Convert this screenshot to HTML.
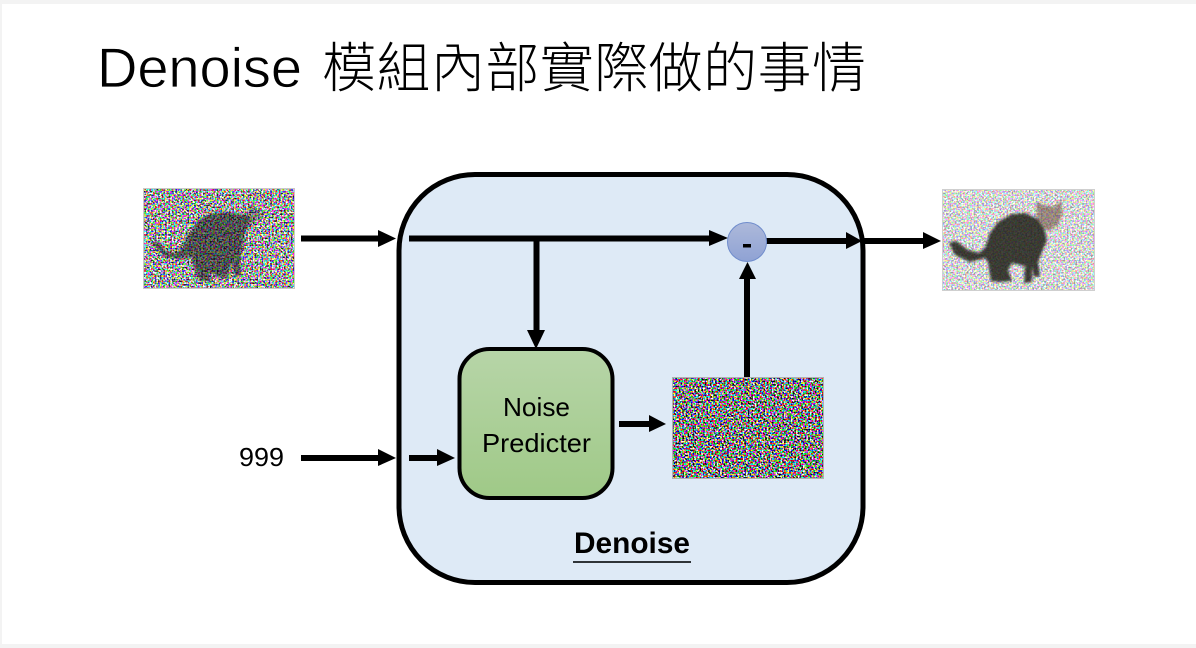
<!DOCTYPE html>
<html><head><meta charset="utf-8"><style>
html,body{margin:0;padding:0;background:#fff;width:1196px;height:648px;overflow:hidden}
svg{display:block}
</style></head><body>
<svg width="1196" height="648" viewBox="0 0 1196 648" xmlns="http://www.w3.org/2000/svg">
<defs>
<filter id="n1" x="0" y="0" width="100%" height="100%" color-interpolation-filters="sRGB">
<feTurbulence type="fractalNoise" baseFrequency="0.58" numOctaves="1" seed="3"/>
<feColorMatrix type="matrix" values="7 0 0 0 -2.900  0 7 0 0 -2.900  0 0 7 0 -2.900  0 0 0 0 1"/>
</filter>
<filter id="n2" x="0" y="0" width="100%" height="100%" color-interpolation-filters="sRGB">
<feTurbulence type="fractalNoise" baseFrequency="0.58" numOctaves="1" seed="11"/>
<feColorMatrix type="matrix" values="7 0 0 0 -2.900  0 7 0 0 -2.900  0 0 7 0 -2.900  0 0 0 0 1"/>
</filter>
<filter id="n3" x="0" y="0" width="100%" height="100%" color-interpolation-filters="sRGB">
<feTurbulence type="fractalNoise" baseFrequency="0.58" numOctaves="1" seed="23"/>
<feColorMatrix type="matrix" values="7 0 0 0 -3  0 7 0 0 -3  0 0 7 0 -3  0 0 0 0 1"/>
</filter>
<filter id="b1"><feGaussianBlur stdDeviation="1.200"/></filter>
<linearGradient id="g" x1="0" y1="0" x2="0" y2="1"><stop offset="0" stop-color="#b7d5a8"/><stop offset="1" stop-color="#9fc987"/></linearGradient>
<linearGradient id="c" x1="0" y1="0" x2="0" y2="1"><stop offset="0" stop-color="#adb9da"/><stop offset="1" stop-color="#8fa2d4"/></linearGradient>
</defs>

<rect width="1196" height="648" fill="#f3f3f3"/>
<rect x="2" y="4" width="1194" height="640" fill="#fff"/>

<text x="97" y="87" font-family="'Liberation Sans',sans-serif" font-size="56" fill="#000" stroke="#fff" stroke-width="0.700" textLength="205" lengthAdjust="spacing">Denoise</text>
<text x="322" y="87" font-family="'Liberation Sans','Noto Sans CJK TC',sans-serif" font-size="54" font-weight="300" fill="#000" textLength="544" lengthAdjust="spacing">模組內部實際做的事情</text>

<!-- left noisy cat -->
<rect x="143" y="188" width="152" height="101" fill="#888" filter="url(#n1)"/>
<rect x="143" y="188" width="152" height="101" fill="#fff" opacity="0.12"/>
<path d="M151 243L158 241L165 250L173 253L182 249L187 236L197 222L208 214L225 212L240 214L250 217L245 232L243 245L240 258L241 274L235 277L231 262L228 278L219 277L208 272L212 281L200 281L195 270L191 257L178 259L165 257Z" fill="#0c100e" opacity="0.52" filter="url(#b1)"/>
<path d="M245 218L250 204L262 213L264 216L252 224L246 232Z" fill="#0c100e" opacity="0.28" filter="url(#b1)"/>
<rect x="143.500" y="188.500" width="151" height="100" fill="none" stroke="#c8c8c8" stroke-width="1"/>

<!-- main box -->
<rect x="399" y="174.500" width="464" height="408" rx="76" ry="76" fill="#deeaf6" stroke="#000" stroke-width="5"/>

<!-- green box -->
<rect x="459.500" y="349" width="153" height="149" rx="30" ry="30" fill="url(#g)" stroke="#000" stroke-width="4"/>
<g font-family="'Liberation Sans',sans-serif" fill="#000" text-anchor="start">
<text x="503" y="416" font-size="26" textLength="67" lengthAdjust="spacingAndGlyphs">Noise</text>
<text x="482" y="452" font-size="26" textLength="109" lengthAdjust="spacingAndGlyphs">Predicter</text>
<text x="239" y="466" font-size="26" textLength="45" lengthAdjust="spacingAndGlyphs">999</text>
<text x="574" y="553" font-size="30" font-weight="bold" textLength="116" lengthAdjust="spacingAndGlyphs">Denoise</text>
</g>
<rect x="573" y="561" width="118" height="2" fill="#2f3438"/>

<!-- middle noise -->
<rect x="672" y="377" width="152" height="102" fill="#888" filter="url(#n3)"/>
<rect x="672.500" y="377.500" width="151" height="101" fill="none" stroke="#b0b0b0" stroke-width="1"/>

<!-- right cat -->
<rect x="942" y="189" width="153" height="102" fill="#888" filter="url(#n2)"/>
<rect x="942" y="189" width="153" height="102" fill="#fff" opacity="0.6"/>
<path d="M949 243L956 241L968 250L979 253L985 248L990 233L998 222L1012 214L1025 213L1038 219L1044 228L1047 240L1042 252L1038 262L1040 276L1034 277L1032 266L1032 282L1024 283L1025 266L1012 263L1008 270L1012 281L1000 282L991 281L988 262L985 258L970 262L955 255Z" fill="#12120e" opacity="0.8" filter="url(#b1)"/>
<path d="M1037 219L1036 202L1044 205L1054 207L1062 200L1062 215L1058 225L1048 231L1044 228Z" fill="#6b4a3a" opacity="0.55" filter="url(#b1)"/>
<rect x="942.500" y="189.500" width="152" height="101" fill="none" stroke="#cfcfcf" stroke-width="1"/>

<!-- arrows -->
<g fill="#000">
<rect x="301" y="235.500" width="80" height="6"/><polygon points="378,230 396,238.500 378,247"/>
<rect x="409" y="235.500" width="300" height="6"/><polygon points="709,230 728,238 709,246"/>
<rect x="533.500" y="236" width="6" height="95"/><polygon points="527,330 545,330 536,349"/>
<rect x="766" y="238" width="82" height="6"/><polygon points="846,232 862,241 846,249"/>
<rect x="863" y="238" width="62" height="6"/><polygon points="923,232 941,241 923,249"/>
<rect x="744" y="278" width="6" height="99"/><polygon points="739,279 756,279 747.500,262"/>
<rect x="619" y="421" width="32" height="6"/><polygon points="649,415 666,424 649,432"/>
<rect x="301" y="455" width="80" height="6"/><polygon points="378,449 396,458 378,466"/>
<rect x="409" y="455" width="30" height="6"/><polygon points="437,449 455,458 437,466"/>
</g>

<!-- minus circle -->
<circle cx="747" cy="242" r="19.500" fill="url(#c)" stroke="#6f8ccc" stroke-width="1"/>
<rect x="743" y="244" width="8" height="3.500" fill="#000"/>
</svg>
</body></html>
